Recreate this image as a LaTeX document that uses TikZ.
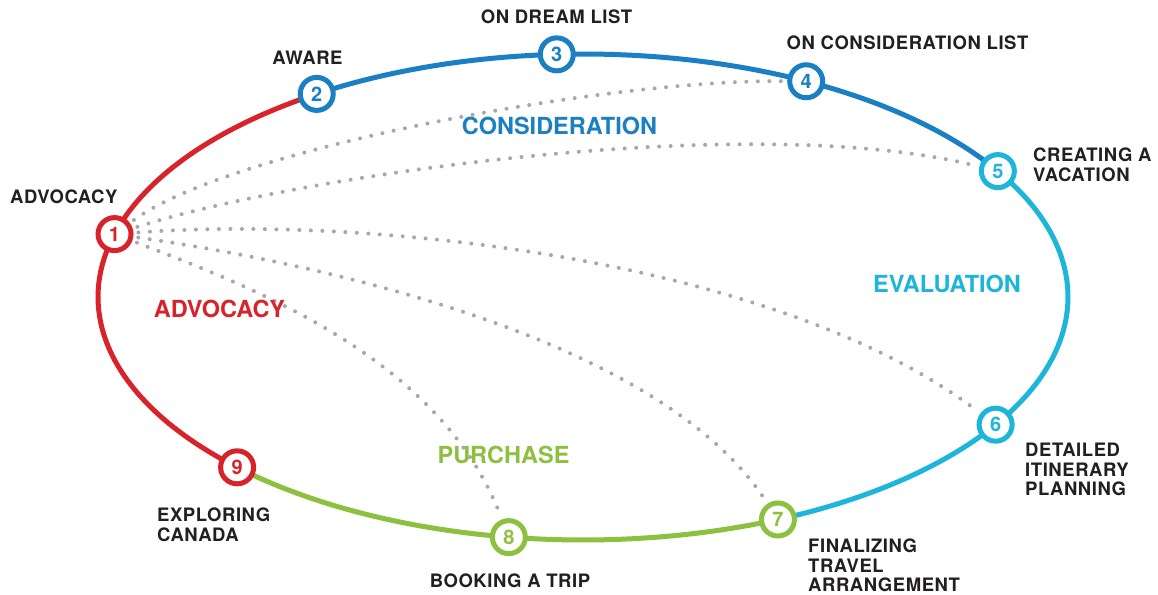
\documentclass[tikz,border=0pt]{standalone}
\usepackage{fontspec}
\setmainfont{TeX Gyre Heros}
\newfontfamily\lblfont[LetterSpace=3]{TeX Gyre Heros}
\definecolor{cred}{HTML}{D8232A}
\definecolor{cblue}{HTML}{1B7FC4}
\definecolor{ccyan}{HTML}{1DB5D9}
\definecolor{cgreen}{HTML}{8DC03F}
\definecolor{dotc}{HTML}{A8A8A8}
\definecolor{labelc}{HTML}{231F20}
\begin{document}
\begin{tikzpicture}[x=1pt,y=1pt,
  stepnum/.style={circle, draw=#1, line width=5pt, fill=white, minimum size=33pt, inner sep=0pt, text=#1, font=\bfseries\fontsize{20}{20}\selectfont},
  lbl/.style={font=\lblfont\bfseries\fontsize{18.5}{19.5}\selectfont, text=labelc, inner sep=0pt},
  stage/.style={font=\bfseries\fontsize{23.5}{24}\selectfont, inner sep=0pt},
  ring/.style={line width=5pt},
  dots/.style={draw=dotc, line width=4pt, line cap=round, dash pattern=on 0pt off 11.5pt, shorten <=5pt, shorten >=5pt}]
\fill[white] (0,0) rectangle (1158,594);
\useasboundingbox (0,0) rectangle (1158,594);
\coordinate (C) at (583,297);
% ring segments
\draw[ring, draw=cred] (C) ++(224.5:485 and 243) arc[start angle=224.5, end angle=123.3, x radius=485, y radius=243];
\draw[ring, draw=cblue] (C) ++(123.3:485 and 243) arc[start angle=123.3, end angle=31.2, x radius=485, y radius=243];
\draw[ring, draw=ccyan] (C) ++(31.2:485 and 243) arc[start angle=31.2, end angle=-66.3, x radius=485, y radius=243];
\draw[ring, draw=cgreen] (C) ++(-66.3:485 and 243) arc[start angle=-66.3, end angle=-135.5, x radius=485, y radius=243];
% step circles
\path (C) ++(165:485 and 243) node[stepnum=cred] (n1) {1};
\path (C) ++(123.3:485 and 243) node[stepnum=cblue] (n2) {2};
\path (C) ++(93.1:485 and 243) node[stepnum=cblue] (n3) {3};
\path (C) ++(62.6:485 and 243) node[stepnum=cblue] (n4) {4};
\path (C) ++(31.2:485 and 243) node[stepnum=ccyan] (n5) {5};
\path (C) ++(-31.7:485 and 243) node[stepnum=ccyan] (n6) {6};
\path (C) ++(-66.3:485 and 243) node[stepnum=cgreen] (n7) {7};
\path (C) ++(-98.8:485 and 243) node[stepnum=cgreen] (n8) {8};
\path (C) ++(-135.5:485 and 243) node[stepnum=cred] (n9) {9};
% dotted connectors
\draw[dots] (n1) .. controls (230,444) and (600,514) .. (n4);
\draw[dots] (n1) .. controls (300,419) and (750,484) .. (n5);
\draw[dots] (n1) .. controls (380,379) and (780,332) .. (n6);
\draw[dots] (n1) .. controls (330,329) and (660,254) .. (n7);
\draw[dots] (n1) .. controls (260,304) and (440,234) .. (n8);
% step labels
\node[lbl, anchor=base west] (tadv) at (10,390) {ADVOCACY};
\node[lbl, anchor=base] (taware) at (307.5,529) {AWARE};
\node[lbl, anchor=base] (tdream) at (556.5,570) {ON DREAM LIST};
\node[lbl, anchor=base] (tcons) at (907.5,544) {ON CONSIDERATION LIST};
\node[lbl, anchor=north west, align=left] (tcreate) at (1033,446) {CREATING A\\VACATION};
\node[lbl, anchor=north west, align=left] (tdet) at (1025,151) {DETAILED\\ITINERARY\\PLANNING};
\node[lbl, anchor=north west, align=left] (tfin) at (808,55) {FINALIZING\\TRAVEL\\ARRANGEMENT};
\node[lbl, anchor=base] (tbook) at (510,7) {BOOKING A TRIP};
\node[lbl, anchor=north west, align=left] (texp) at (157,86) {EXPLORING\\CANADA};
% stage labels
\node[stage, text=cblue, anchor=base] (scons) at (559.5,459) {CONSIDERATION};
\node[stage, text=ccyan, anchor=base] (seval) at (947,301) {EVALUATION};
\node[stage, text=cred, anchor=base] (sadv) at (219.5,276) {ADVOCACY};
\node[stage, text=cgreen, anchor=base] (spur) at (503.5,130) {PURCHASE};
\end{tikzpicture}
\end{document}
